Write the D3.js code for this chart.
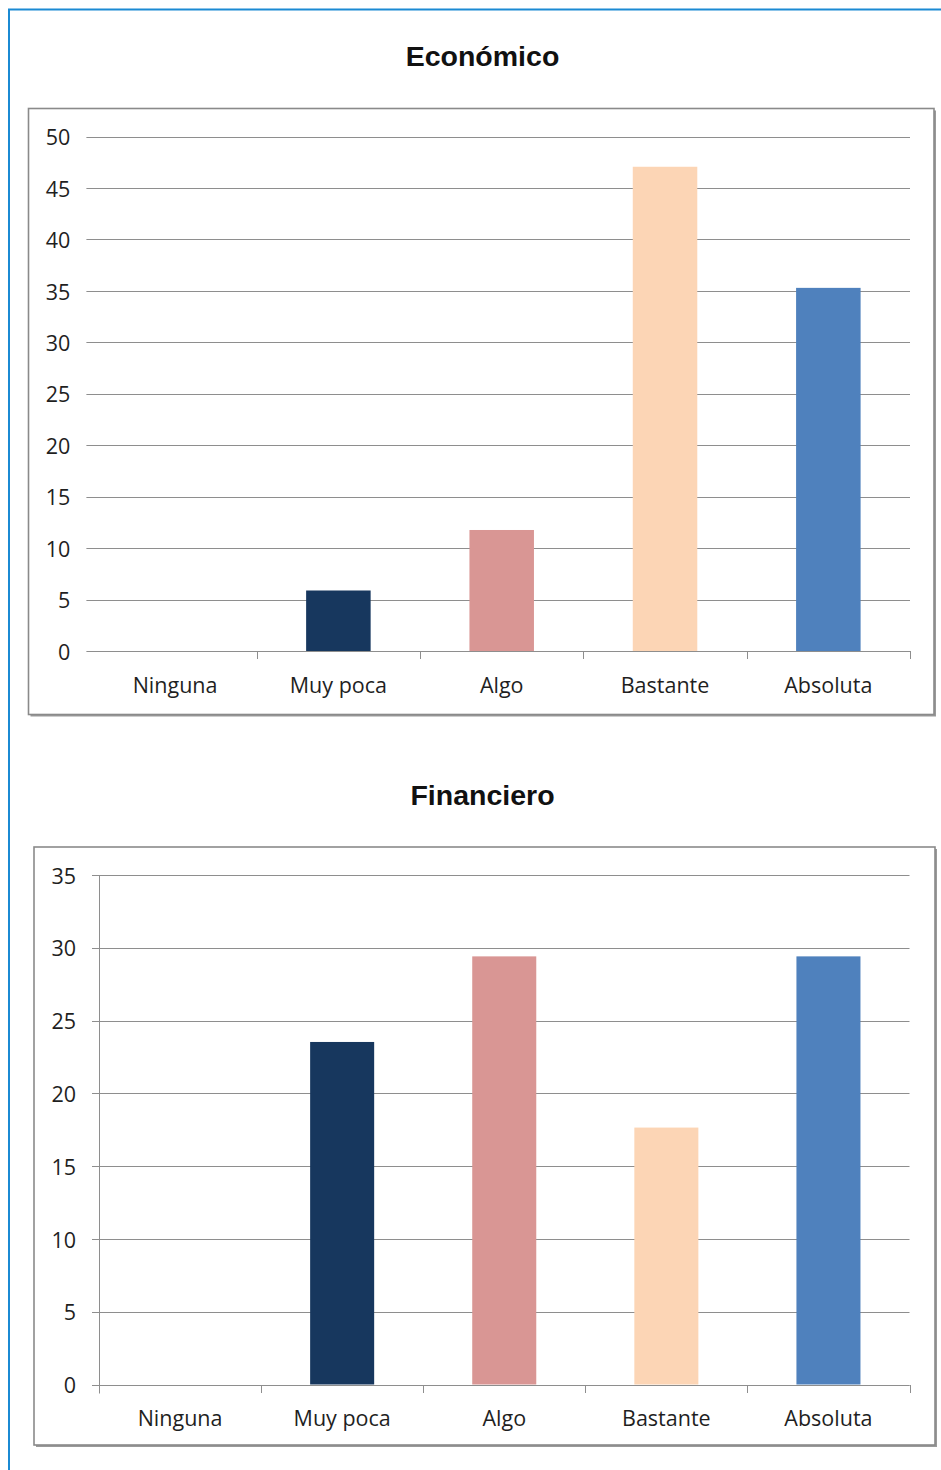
<!DOCTYPE html>
<html>
<head>
<meta charset="utf-8">
<script src="https://cdn.jsdelivr.net/npm/d3@7"></script>
<style>
  html, body { margin: 0; padding: 0; background: #ffffff; }
  svg { display: block; }
</style>
</head>
<body>
<svg id="chart" width="941" height="1470"></svg>
<script>
// ---- Data ----
const categories = ["Ninguna", "Muy poca", "Algo", "Bastante", "Absoluta"];
const barColors = ["#ffffff", "#17375E", "#D99694", "#FCD5B5", "#4F81BD"];

const economicoTitle = "Económico";
const economicoValues = [0, 5.88, 11.76, 47.06, 35.29];
const economicoTicks = [0, 5, 10, 15, 20, 25, 30, 35, 40, 45, 50];

const financieroTitle = "Financiero";
const financieroValues = [0, 23.53, 29.41, 17.65, 29.41];
const financieroTicks = [0, 5, 10, 15, 20, 25, 30, 35];

// ---- Drawing ----
const svg = d3.select("#chart");
const textColor = "#1f1f1f";
const gridColor = "#8e8e8e";
const labelFont = "'Open Sans', 'Noto Sans', sans-serif";
const labelSize = 21.5;

// outer blue frame
svg.append("rect")
  .attr("x", 9).attr("y", 9.5)
  .attr("width", 1000).attr("height", 2000)
  .attr("fill", "none")
  .attr("stroke", "#1B8AD3")
  .attr("stroke-width", 2);

function drawChart(cfg) {
  const g = svg.append("g");

  // title
  g.append("text")
    .attr("x", 482.5).attr("y", cfg.titleY)
    .attr("text-anchor", "middle")
    .attr("font-family", "'Liberation Sans', Arial, sans-serif")
    .attr("font-weight", "bold")
    .attr("font-size", 28.5)
    .attr("fill", "#111")
    .text(cfg.title);

  // chart box with shadow
  const b = cfg.box;
  g.append("rect")
    .attr("x", b.x0 + 2).attr("y", b.y0 + 2)
    .attr("width", b.x1 - b.x0).attr("height", b.y1 - b.y0)
    .attr("fill", "#9a9a9a");
  g.append("rect")
    .attr("x", b.x0).attr("y", b.y0)
    .attr("width", b.x1 - b.x0).attr("height", b.y1 - b.y0)
    .attr("fill", "#ffffff")
    .attr("stroke", "#8a8a8a")
    .attr("stroke-width", 1.6);

  const p = cfg.plot;
  const x = d3.scaleBand()
    .domain(categories)
    .range([p.left, p.right])
    .paddingInner(0.605)
    .paddingOuter(0.3025);
  const xb = d3.scaleBand().domain(categories).range([p.left, p.right]);

  const y = d3.scaleLinear()
    .domain([0, d3.max(cfg.ticks)])
    .range([p.bottom, p.top]);

  // gridlines
  g.append("g").selectAll("line")
    .data(cfg.ticks)
    .join("line")
    .attr("x1", p.left - 7).attr("x2", p.right)
    .attr("y1", d => Math.round(y(d)) + 0.5)
    .attr("y2", d => Math.round(y(d)) + 0.5)
    .attr("stroke", gridColor)
    .attr("stroke-width", 1);

  // vertical axis line
  if (cfg.showYAxisLine) {
    g.append("line")
      .attr("x1", p.left + 0.5).attr("x2", p.left + 0.5)
      .attr("y1", p.top).attr("y2", p.bottom + 9)
      .attr("stroke", gridColor);
  }

  // y axis labels
  const yAxis = g.append("g")
    .attr("transform", `translate(${p.left - 7},0)`)
    .call(d3.axisLeft(y).tickValues(cfg.ticks).tickSize(0).tickPadding(cfg.yLabelPad).tickFormat(d3.format("d")));
  yAxis.select(".domain").remove();
  yAxis.selectAll("text")
    .attr("font-family", labelFont)
    .attr("font-size", labelSize)
    .attr("fill", textColor)
    .attr("dy", "0.38em");

  // bars
  g.append("g").selectAll("rect")
    .data(categories.map((c, i) => ({ c, v: cfg.values[i], col: barColors[i] })))
    .join("rect")
    .attr("x", d => x(d.c))
    .attr("width", x.bandwidth())
    .attr("y", d => y(d.v))
    .attr("height", d => y(0) - y(d.v))
    .attr("fill", d => d.col);

  // category axis line & tick marks at band boundaries
  g.append("line")
    .attr("x1", p.left).attr("x2", p.right)
    .attr("y1", Math.round(y(0)) + 0.5).attr("y2", Math.round(y(0)) + 0.5)
    .attr("stroke", gridColor);
  const boundaries = categories.map(c => xb(c)).concat([p.right]).slice(cfg.firstTick);
  g.append("g").selectAll("line")
    .data(boundaries)
    .join("line")
    .attr("x1", d => Math.round(d) + 0.5).attr("x2", d => Math.round(d) + 0.5)
    .attr("y1", Math.round(y(0))).attr("y2", Math.round(y(0)) + 8)
    .attr("stroke", gridColor);

  // x axis labels
  const xAxis = g.append("g")
    .attr("transform", `translate(0,${y(0)})`)
    .call(d3.axisBottom(xb).tickSize(0).tickPadding(0));
  xAxis.select(".domain").remove();
  xAxis.selectAll("text")
    .attr("font-family", labelFont)
    .attr("font-size", labelSize)
    .attr("fill", textColor)
    .attr("dy", null)
    .attr("y", cfg.xLabelDy);
}

drawChart({
  title: economicoTitle,
  titleY: 66,
  values: economicoValues,
  ticks: economicoTicks,
  box: { x0: 28.5, y0: 108.5, x1: 934, y1: 714.5 },
  plot: { left: 93.4, right: 910, top: 136.5, bottom: 651 },
  showYAxisLine: false,
  firstTick: 1,
  yLabelPad: 16,
  xLabelDy: 41.5
});

drawChart({
  title: financieroTitle,
  titleY: 805,
  values: financieroValues,
  ticks: financieroTicks,
  box: { x0: 34, y0: 847, x1: 935, y1: 1445 },
  plot: { left: 99, right: 909.5, top: 875, bottom: 1384.5 },
  showYAxisLine: true,
  firstTick: 0,
  yLabelPad: 16,
  xLabelDy: 41.5
});
</script>
</body>
</html>
